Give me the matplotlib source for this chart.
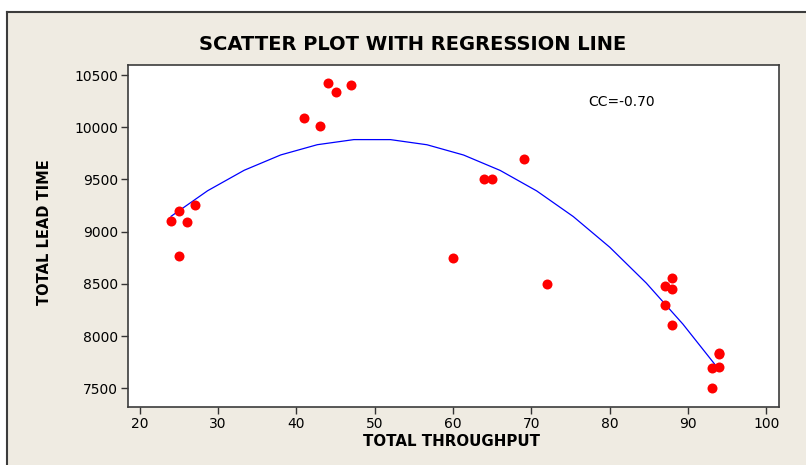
import numpy as np
import matplotlib
matplotlib.use("Agg")
import matplotlib.pyplot as plt
from matplotlib.lines import Line2D
from matplotlib.patches import Rectangle

# ---- data ----
throughput = [24, 25, 26, 27, 25, 41, 43, 44, 45, 47,
              60, 64, 65, 69, 72, 87, 88, 88, 87, 88,
              94, 94, 93, 94, 93]
lead_time = [9100, 9200, 9090, 9260, 8770, 10090, 10010, 10420, 10340, 10400,
             8750, 9500, 9500, 9700, 8500, 8480, 8560, 8450, 8300, 8110,
             7840, 7830, 7690, 7700, 7500]
x_ticks = [20, 30, 40, 50, 60, 70, 80, 90, 100]
y_ticks = [7500, 8000, 8500, 9000, 9500, 10000, 10500]
title = "SCATTER PLOT WITH REGRESSION LINE"
x_label = "TOTAL THROUGHPUT"
y_label = "TOTAL LEAD TIME"
cc_text = "CC=-0.70"

W, H = 806, 465
fig = plt.figure(figsize=(W / 100, H / 100), dpi=100)
fig.patch.set_facecolor("white")

# beige panel with dark frame (top and left edges visible)
bg = "#EFEBE2"
panel = Rectangle((7 / W, 0), 1.0, 1 - 12 / H, transform=fig.transFigure,
                  facecolor=bg, edgecolor="none", zorder=-10)
fig.add_artist(panel)
fig.add_artist(Line2D([7 / W, 1.0], [1 - 12 / H, 1 - 12 / H], transform=fig.transFigure,
                      color="#3c3c3c", lw=1.5, zorder=-9))
fig.add_artist(Line2D([7 / W, 7 / W], [0, 1 - 12 / H], transform=fig.transFigure,
                      color="#3c3c3c", lw=1.5, zorder=-9))

left, right, top, bottom = 128, 779, 65, 407
ax = fig.add_axes([left / W, 1 - bottom / H, (right - left) / W, (bottom - top) / H])
ax.set_facecolor("white")

x = np.array(throughput, dtype=float)
y = np.array(lead_time, dtype=float)
coef = np.polyfit(x, y, 2)
xs = np.linspace(x.min(), x.max(), 16)
ax.plot(xs, np.polyval(coef, xs), color="#0000FF", lw=0.9, zorder=2)

ax.plot(x, y, linestyle="none", marker="o", markersize=7.2,
        markerfacecolor="#FF0000", markeredgecolor="none", zorder=3)

ax.set_xlim(18.5, 101.6)
ax.set_ylim(7321, 10596)
ax.set_xticks(x_ticks)
ax.set_yticks(y_ticks)
ax.tick_params(direction="out", length=5, width=1.0, color="#333333",
               labelsize=10, labelcolor="black", pad=2)
for s in ax.spines.values():
    s.set_color("#3c3c3c")
    s.set_linewidth(1.2)

fig.text(588 / W, 1 - 102 / H, cc_text, fontsize=10, ha="left", va="center",
         color="black")

fig.text(413 / W, 1 - 45 / H, title, ha="center", va="center",
         fontsize=14, fontweight="bold", color="black")
fig.text(452 / W, 1 - 441 / H, x_label, ha="center", va="center",
         fontsize=10.8, fontweight="bold", color="black")
fig.text(45 / W, 1 - 232 / H, y_label, ha="center", va="center", rotation=90,
         fontsize=10.5, fontweight="bold", color="black")

fig.savefig("out.png", dpi=100, facecolor=fig.get_facecolor())
